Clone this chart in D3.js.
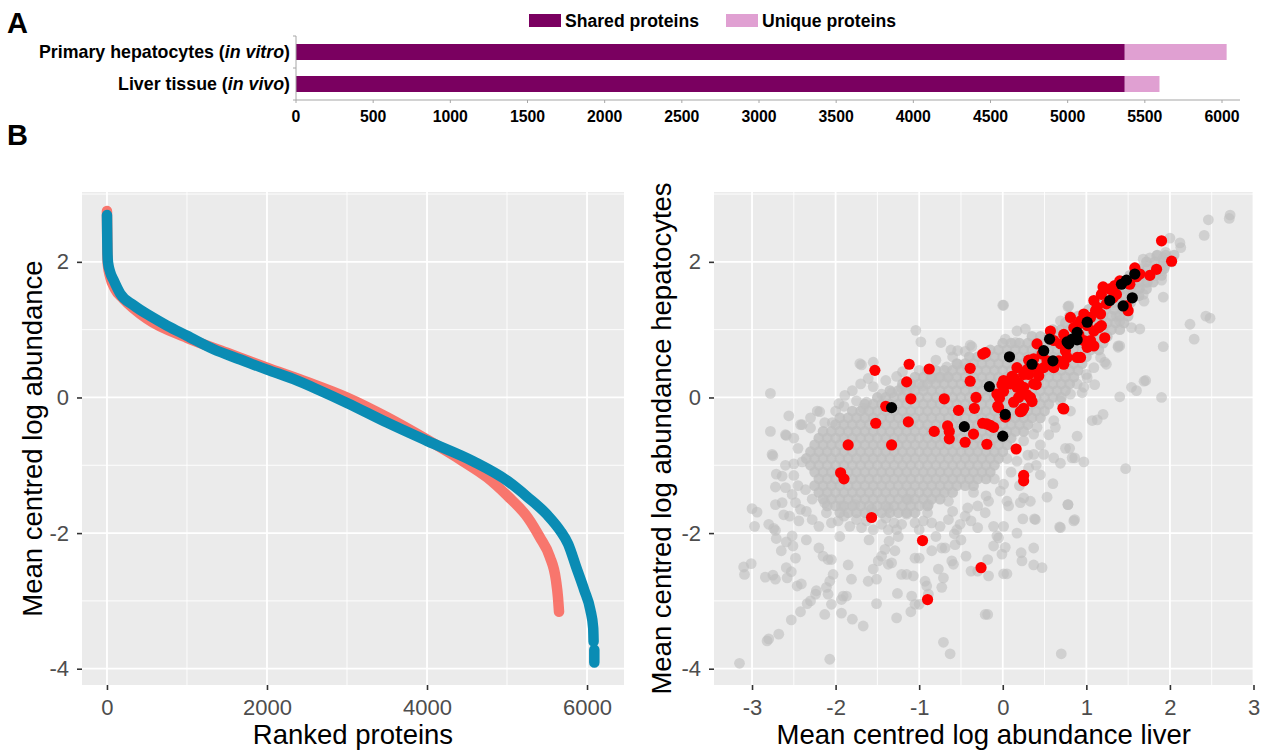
<!DOCTYPE html>
<html>
<head>
<meta charset="utf-8">
<script src="https://cdn.jsdelivr.net/npm/d3@7"></script>
<style>
  body { margin: 0; background: #fff; }
  svg { display: block; }
  text { font-family: "Liberation Sans", Arial, sans-serif; }
</style>
</head>
<body>
<svg id="fig" width="1266" height="750"></svg>
<script>
// ---------- Panel A: protein identifications per sample ----------
const groups = ["hepatocytes", "liver"];
const groupLabelParts = [["Primary hepatocytes (", "in vitro", ")"], ["Liver tissue (", "in vivo", ")"]];
const sharedCounts = [5370, 5370];
const uniqueCounts = [660, 225];
const countTicks = [0, 500, 1000, 1500, 2000, 2500, 3000, 3500, 4000, 4500, 5000, 5500, 6000];
const legendLabels = ["Shared proteins", "Unique proteins"];
const barColors = ["#7A0060", "#E0A0D2"];

// ---------- Panel B left: ranked abundance curves (rank, value) ----------
const rankTicks = [0, 2000, 4000, 6000];
const rankMinor = [1000, 3000, 5000];
const abundanceTicks = [-4, -2, 0, 2];
const abundanceMinor = [-3, -1, 1, 3];
const liverRanked = [[0, 2.75], [3, 2.45], [6, 2.1], [12, 1.95], [40, 1.78], [100, 1.6], [200, 1.46],
  [500, 1.16], [1000, 0.88], [1500, 0.66], [2000, 0.44], [2500, 0.23], [3000, 0.0], [3500, -0.29],
  [4000, -0.62], [4449, -0.94], [4752, -1.18], [5005, -1.45], [5258, -1.77], [5409, -2.06],
  [5535, -2.35], [5611, -2.69], [5637, -2.95], [5650, -3.16]];
const hepatocyteRanked = [[0, 2.69], [3, 2.4], [6, 2.15], [12, 2.0], [40, 1.85], [83, 1.73], [167, 1.53],
  [333, 1.36], [542, 1.2], [750, 1.06], [1000, 0.91], [1333, 0.71], [1667, 0.56], [2000, 0.41],
  [2333, 0.27], [2667, 0.1], [3000, -0.08], [3500, -0.37], [4000, -0.64], [4575, -0.94],
  [5005, -1.23], [5258, -1.47], [5510, -1.74], [5662, -1.96], [5763, -2.16], [5864, -2.5],
  [5965, -2.84], [6041, -3.13], [6077, -3.4], [6082, -3.6], [6086, null], [6091, -3.72], [6091, -3.91]];

// ---------- Panel B right: liver vs hepatocyte abundance ----------
const liverTicks = [-3, -2, -1, 0, 1, 2, 3];
const liverMinor = [-2.5, -1.5, -0.5, 0.5, 1.5, 2.5];

// dense body of the cloud, one row per hepatocyte value: [y, liver values]
const grayDenseRows = [
  [2.1, [1.85, 1.95, 2.05]],
  [2.0, [1.72, 1.82, 1.92, 2.02]],
  [1.9, [1.63, 1.73, 1.83, 1.93]],
  [1.8, [1.52, 1.62, 1.72, 1.82, 1.9]],
  [1.7, [1.43, 1.53, 1.63, 1.73, 1.8]],
  [1.6, [1.33, 1.43, 1.53, 1.63, 1.72]],
  [1.5, [1.23, 1.33, 1.43, 1.53, 1.63]],
  [1.4, [1.13, 1.23, 1.33, 1.43, 1.53]],
  [1.3, [1.03, 1.13, 1.23, 1.33, 1.43, 1.5]],
  [1.2, [0.8, 0.9, 1.0, 1.1, 1.2, 1.3, 1.4, 1.5]],
  [1.1, [0.75, 0.85, 0.95, 1.05, 1.15, 1.25, 1.35, 1.45]],
  [1.0, [0.6, 0.7, 0.8, 0.9, 1.0, 1.1, 1.2, 1.3, 1.4]],
  [0.9, [0.35, 0.45, 0.55, 0.65, 0.75, 0.85, 0.95, 1.05, 1.15, 1.25]],
  [0.8, [0, 0.1, 0.2, 0.3, 0.4, 0.5, 0.6, 0.7, 0.8, 0.9, 1.0, 1.1, 1.2]],
  [0.7, [-0.15, -0.05, 0.05, 0.15, 0.25, 0.35, 0.45, 0.55, 0.65, 0.75, 0.85, 0.95, 1.05, 1.15]],
  [0.6, [-0.4, -0.3, -0.2, -0.1, 0, 0.1, 0.2, 0.3, 0.4, 0.5, 0.6, 0.7, 0.8, 0.9, 1.0]],
  [0.5, [-0.55, -0.45, -0.35, -0.25, -0.15, -0.05, 0.05, 0.15, 0.25, 0.35, 0.45, 0.55, 0.65, 0.75, 0.85, 0.95]],
  [0.4, [-0.9, -0.8, -0.7, -0.6, -0.5, -0.4, -0.3, -0.2, -0.1, 0, 0.1, 0.2, 0.3, 0.4, 0.5, 0.6, 0.7, 0.8, 0.9]],
  [0.3, [-1.05, -0.95, -0.85, -0.75, -0.65, -0.55, -0.45, -0.35, -0.25, -0.15, -0.05, 0.05, 0.15, 0.25, 0.35, 0.45, 0.55, 0.65, 0.75, 0.85]],
  [0.2, [-1.2, -1.1, -1.0, -0.9, -0.8, -0.7, -0.6, -0.5, -0.4, -0.3, -0.2, -0.1, 0, 0.1, 0.2, 0.3, 0.4, 0.5, 0.6, 0.7, 0.8]],
  [0.1, [-1.35, -1.25, -1.15, -1.05, -0.95, -0.85, -0.75, -0.65, -0.55, -0.45, -0.35, -0.25, -0.15, -0.05, 0.05, 0.15, 0.25, 0.35, 0.45, 0.55, 0.65, 0.75]],
  [0.0, [-1.5, -1.4, -1.3, -1.2, -1.1, -1.0, -0.9, -0.8, -0.7, -0.6, -0.5, -0.4, -0.3, -0.2, -0.1, 0, 0.1, 0.2, 0.3, 0.4, 0.5, 0.6, 0.7]],
  [-0.1, [-1.65, -1.55, -1.45, -1.35, -1.25, -1.15, -1.05, -0.95, -0.85, -0.75, -0.65, -0.55, -0.45, -0.35, -0.25, -0.15, -0.05, 0.05, 0.15, 0.25, 0.35, 0.45, 0.55]],
  [-0.2, [-1.8, -1.7, -1.6, -1.5, -1.4, -1.3, -1.2, -1.1, -1.0, -0.9, -0.8, -0.7, -0.6, -0.5, -0.4, -0.3, -0.2, -0.1, 0, 0.1, 0.2, 0.3, 0.4, 0.5]],
  [-0.3, [-1.95, -1.85, -1.75, -1.65, -1.55, -1.45, -1.35, -1.25, -1.15, -1.05, -0.95, -0.85, -0.75, -0.65, -0.55, -0.45, -0.35, -0.25, -0.15, -0.05, 0.05, 0.15, 0.25, 0.35, 0.45]],
  [-0.4, [-2.0, -1.9, -1.8, -1.7, -1.6, -1.5, -1.4, -1.3, -1.2, -1.1, -1.0, -0.9, -0.8, -0.7, -0.6, -0.5, -0.4, -0.3, -0.2, -0.1, 0, 0.1, 0.2, 0.3]],
  [-0.5, [-2.15, -2.05, -1.95, -1.85, -1.75, -1.65, -1.55, -1.45, -1.35, -1.25, -1.15, -1.05, -0.95, -0.85, -0.75, -0.65, -0.55, -0.45, -0.35, -0.25, -0.15, -0.05, 0.05, 0.15, 0.25]],
  [-0.6, [-2.2, -2.1, -2.0, -1.9, -1.8, -1.7, -1.6, -1.5, -1.4, -1.3, -1.2, -1.1, -1.0, -0.9, -0.8, -0.7, -0.6, -0.5, -0.4, -0.3, -0.2, -0.1, 0, 0.1]],
  [-0.7, [-2.25, -2.15, -2.05, -1.95, -1.85, -1.75, -1.65, -1.55, -1.45, -1.35, -1.25, -1.15, -1.05, -0.95, -0.85, -0.75, -0.65, -0.55, -0.45, -0.35, -0.25, -0.15, -0.05, 0.05]],
  [-0.8, [-2.3, -2.2, -2.1, -2.0, -1.9, -1.8, -1.7, -1.6, -1.5, -1.4, -1.3, -1.2, -1.1, -1.0, -0.9, -0.8, -0.7, -0.6, -0.5, -0.4, -0.3, -0.2, -0.1, 0]],
  [-0.9, [-2.35, -2.25, -2.15, -2.05, -1.95, -1.85, -1.75, -1.65, -1.55, -1.45, -1.35, -1.25, -1.15, -1.05, -0.95, -0.85, -0.75, -0.65, -0.55, -0.45, -0.35, -0.25, -0.15, -0.05]],
  [-1.0, [-2.3, -2.2, -2.1, -2.0, -1.9, -1.8, -1.7, -1.6, -1.5, -1.4, -1.3, -1.2, -1.1, -1.0, -0.9, -0.8, -0.7, -0.6, -0.5, -0.4, -0.3, -0.2, -0.1]],
  [-1.1, [-2.25, -2.15, -2.05, -1.95, -1.85, -1.75, -1.65, -1.55, -1.45, -1.35, -1.25, -1.15, -1.05, -0.95, -0.85, -0.75, -0.65, -0.55, -0.45, -0.35, -0.25, -0.15]],
  [-1.2, [-2.2, -2.1, -2.0, -1.9, -1.8, -1.7, -1.6, -1.5, -1.4, -1.3, -1.2, -1.1, -1.0, -0.9, -0.8, -0.7, -0.6, -0.5, -0.4, -0.3, -0.2]],
  [-1.3, [-2.25, -2.15, -2.05, -1.95, -1.85, -1.75, -1.65, -1.55, -1.45, -1.35, -1.25, -1.15, -1.05, -0.95, -0.85, -0.75, -0.65, -0.55, -0.45, -0.35]],
  [-1.4, [-2.2, -2.1, -2.0, -1.9, -1.8, -1.7, -1.6, -1.5, -1.4, -1.3, -1.2, -1.1, -1.0, -0.9, -0.8, -0.7, -0.6]],
  [-1.5, [-2.15, -2.05, -1.95, -1.85, -1.75, -1.65, -1.55, -1.45, -1.35, -1.25, -1.15, -1.05, -0.95, -0.85, -0.75]],
  [-1.6, [-2.1, -2.0, -1.9, -1.8, -1.7, -1.6, -1.5, -1.4, -1.3, -1.2, -1.1, -1.0, -0.9]],
  [-1.7, [-1.95, -1.85, -1.75, -1.65, -1.55, -1.45, -1.35, -1.25, -1.15, -1.05]]
];

// individual proteins away from the dense body: [liver, hepatocytes]
const grayScatter = [
  [-1.04, 0.99], [-0.98, 0.82], [-0.74, 0.81], [-0.62, 0.70], [-0.54, 0.69], [-0.37, 0.75], [-1.69, 0.48],
  [-1.55, 0.52], [-1.61, 0.28], [-1.55, 0.16], [-1.27, 0.31], [-2.78, 0.06], [-2.56, -0.27], [-2.40, -0.40],
  [-2.19, -0.21], [-2.78, -0.50], [-2.59, -0.56], [-1.89, 0.03], [-1.96, -0.09], [-1.90, -0.13], [-2.13, -0.37],
  [-2.04, -0.37], [-1.75, -0.05], [-1.63, -0.07], [-1.67, -0.16], [-1.21, 0.14], [-1.10, 0.16], [-0.96, 0.17],
  [-0.86, 0.27], [-0.76, 0.29], [-0.66, 0.30], [-0.67, 0.45], [-0.54, 0.49], [-0.42, 0.44], [-1.45, 0.05],
  [-1.33, 0.07], [-2.76, -0.84], [-2.6, -0.55], [-2.42, -0.4], [-2.22, -0.2], [-1.71, 0.5], [-0.39, 0.77],
  [0.01, 1.36], [0.78, 1.34], [0.8, -0.75], [0.86, -0.89], [0.78, -1.58], [0.86, -1.8], [0.69, -1.92], [0.39, -1.8],
  [-2.75, -0.86], [-2.60, -1.0], [-2.50, -0.98], [-2.71, -1.13], [-2.64, -1.16], [-2.72, -1.32], [-3.0, -1.64],
  [-2.94, -1.69], [-2.97, -1.90], [-2.80, -1.87], [-2.74, -1.93], [-2.72, -1.96], [-2.71, -2.08], [-3.10, -2.50],
  [-3.09, -2.61], [-3.01, -2.45], [-2.84, -2.65], [-2.75, -2.62], [-2.72, -2.68], [-2.59, -2.51], [-2.58, -2.66],
  [-2.53, -2.57], [-2.65, -2.26], [-2.59, -2.13], [-2.52, -2.04], [-2.51, -2.19], [-2.48, -2.37], [-2.82, -3.59],
  [-2.80, -3.56], [-2.68, -3.49], [-3.15, -3.92], [-2.07, -3.86], [-2.46, -2.78], [-2.41, -2.75], [-2.34, -3.04],
  [-2.30, -3.0], [-2.24, -2.90], [-2.23, -2.85], [-2.42, -3.16], [-2.53, -3.28], [-2.20, -2.22], [-2.15, -2.34],
  [-2.09, -2.39], [-2.05, -2.39], [-2.03, -2.61], [-2.07, -2.71], [-2.11, -2.80], [-2.09, -2.90], [-2.13, -3.20],
  [-2.05, -3.05], [-1.93, -3.18], [-1.93, -2.98], [-1.91, -2.93], [-1.87, -2.93], [-1.85, -2.47], [-1.81, -2.68],
  [-1.80, -3.27], [-1.67, -3.37], [-1.61, -2.71], [-1.51, -2.68], [-1.51, -3.04], [-1.55, -2.53], [-1.49, -2.41],
  [-1.45, -2.34], [-1.36, -2.12], [-1.41, -2.24], [-1.37, -2.46], [-1.33, -2.44], [-1.29, -2.26], [-1.27, -3.25],
  [-1.26, -2.89], [-1.21, -2.61], [-1.15, -2.61], [-1.09, -2.93], [-1.07, -2.63], [-1.10, -3.16], [-1.05, -3.05],
  [-1.0, -3.05], [-1.05, -2.37], [-1.0, -2.37], [-0.93, -2.71], [-0.91, -2.78], [-0.89, -2.90], [-0.85, -2.26],
  [-0.73, -2.22], [-0.69, -2.22], [-0.71, -2.66], [-0.77, -2.53], [-0.73, -2.80], [-0.59, -2.46], [-0.61, -2.41],
  [-0.58, -2.01], [-0.57, -2.17], [-0.44, -2.34], [-0.38, -2.56], [-0.30, -2.56], [-0.71, -3.61], [-0.63, -3.78],
  [-2.64, -1.55], [-2.48, -1.55], [-2.62, -1.73], [-2.44, -1.82], [-2.28, -1.80], [-2.11, -1.70], [-1.97, -1.82],
  [-1.83, -1.90], [-1.69, -1.92], [-1.63, -1.82], [-1.45, -1.87], [-1.37, -1.95], [-1.27, -1.95], [-1.21, -1.87],
  [-1.05, -1.85], [-0.95, -1.82], [-0.85, -1.85], [-0.65, -1.80], [-0.51, -1.87], [-0.38, -1.82], [-0.30, -1.92],
  [-0.42, -1.63], [-0.65, -1.53], [-0.89, -1.58], [-1.13, -1.50], [-1.37, -1.63], [-1.57, -1.65], [-1.77, -1.58],
  [-1.93, -1.60], [-2.13, -1.55], [-2.28, -1.50], [-2.42, -1.65], [-2.52, -1.43], [-2.36, -1.36], [-2.72, -1.58],
  [-2.60, -1.33],
  [-2.55, -1.75], [-2.35, -1.68], [-2.2, -1.9], [-2.05, -1.85], [-1.9, -1.75], [-1.75, -1.8], [-1.55, -1.95],
  [-1.4, -1.78], [-1.3, -1.85], [-1.15, -1.72], [-1.0, -1.95], [-0.9, -1.7], [-0.75, -1.9], [-0.6, -1.68],
  [-0.55, -1.95], [-0.45, -1.75], [-0.3, -1.6], [-0.2, -1.45], [-0.35, -1.4], [-0.1, -1.2], [-2.45, -1.3],
  [-2.5, -1.15], [-2.4, -0.95], [-2.45, -0.75], [-2.5, -0.6], [-2.3, -0.45], [-1.25, -2.05], [-1.6, -2.1],
  [-1.95, -2.05], [-0.8, -2.05], [-0.5, -2.1], [-2.35, -2.1], [0.1, -1.1], [0.2, -1.3], [0.05, -0.9],
  [0.3, -0.85], [0.45, -0.7], [0.55, -0.55], [0.4, -1.0], [-1.7, 0.2], [-1.8, 0.1], [-1.2, 0.38], [-1.0, 0.4],
  [-0.8, 0.55], [-0.6, 0.6], [-0.45, 0.68], [-1.4, 0.25], [-2.0, -0.2], [-2.3, -0.3],
  [0.75, -0.75], [0.83, -0.89], [0.97, -0.95], [1.47, -1.05], [0.60, -1.27], [0.53, -1.47], [0.78, -1.58],
  [0.85, -1.82], [0.68, -1.91], [0.38, -1.79], [0.24, -1.79], [0.37, -2.22], [0.22, -2.29], [0.23, -2.41],
  [0.37, -2.47], [0.47, -2.51], [0.01, -2.60], [0.05, -2.60], [-0.17, -2.63], [-0.21, -3.2], [-0.18, -3.2],
  [0.70, -3.78], [0.17, -2.0], [-0.07, -2.04], [-0.05, -2.07], [0.01, -1.90], [-0.11, -1.90], [0.03, -2.21],
  [-0.11, -2.19], [-0.01, -2.31], [-0.18, -2.39], [0.21, -1.55], [0.25, -1.48], [0.33, -1.53], [0.05, -1.53],
  [0.07, -1.60], [0.01, -1.28], [-0.03, -1.38], [-0.17, -1.53], [-0.21, -1.70], [0.37, -0.84], [0.49, -0.84],
  [0.45, -1.14], [0.31, -1.04], [0.17, -0.94], [0.61, -0.89], [0.69, -0.97],
  [2.72, 2.69], [2.71, 2.64], [2.46, 2.62], [2.41, 2.39], [2.0, 2.35], [2.12, 2.28], [2.13, 2.21], [1.95, 2.14],
  [1.90, 1.73], [1.92, 1.48], [1.69, 1.42], [2.24, 1.08], [2.43, 1.20], [2.48, 1.17], [2.29, 0.86], [1.92, 0.75],
  [1.40, 0.76], [1.54, 1.03], [1.64, 1.01], [1.71, 0.25], [1.54, 0.15], [1.60, 0.10], [1.40, 0.01], [1.90, 0.0],
  [1.20, -0.25], [1.07, -0.34], [1.13, -0.33], [0.89, -0.57], [0.0, 1.36], [1.1, 0.19], [0.95, 0.07], [0.79, 1.35],
  [1.22, 0.52], [1.17, 0.59], [1.0, 0.34], [1.09, 0.44], [0.69, 1.13], [0.17, 0.98], [0.27, 1.01], [0.03, 0.86],
  [0.15, 0.81], [1.68, 2.04], [1.76, 2.06], [1.84, 2.09], [1.92, 2.06], [1.94, 1.94], [1.90, 1.87], [1.72, 1.70],
  [1.64, 1.62], [1.54, 1.52], [1.68, 1.52], [1.36, 1.20], [1.40, 1.13], [1.38, 0.76], [1.24, 0.49], [1.01, 0.29],
  [0.89, 0.20], [0.97, 0.15], [0.81, 0.05], [0.69, -0.05], [0.81, -0.20], [0.61, -0.34], [0.63, -0.44],
  [0.41, -0.44], [0.37, -0.54], [0.25, -0.64], [1.38, 0.74], [1.69, 0.24]
];

// proteins highlighted in red
const redPoints = [
  [1.90, 2.31], [2.02, 2.01], [1.84, 1.89], [1.76, 1.80], [1.58, 1.91], [1.60, 1.78], [1.48, 1.72], [1.20, 1.63],
  [1.28, 1.60], [1.34, 1.65], [1.18, 1.52], [1.24, 1.38], [1.09, 1.43], [1.50, 1.28], [1.48, 1.35], [1.11, 1.28],
  [1.17, 1.23], [1.05, 1.18], [0.93, 1.13], [0.89, 1.06], [0.97, 1.23], [1.15, 1.03], [1.09, 0.98], [1.01, 1.06],
  [0.91, 0.93], [0.97, 0.84], [1.01, 0.74], [1.05, 0.84], [0.57, 0.98], [0.61, 0.84], [0.41, 0.79], [0.47, 0.64],
  [0.37, 0.57], [0.53, 0.54], [0.61, 0.44], [0.73, 0.49], [0.75, 0.69], [0.69, 0.79], [0.89, 0.59], [0.93, 0.59],
  [0.31, 0.34], [0.43, 0.32], [0.33, 0.54], [0.01, 0.25], [0.13, 0.29], [0.09, 0.20], [0.17, 0.15], [0.25, 0.15],
  [0.19, 0.0], [0.33, 0.0], [0.37, 0.20], [-0.07, 0.05], [-0.05, -0.15], [0.13, -0.07], [0.23, -0.20],
  [0.03, -0.29], [-0.19, -0.39], [-0.11, -0.44], [0.73, -0.17], [-0.21, 0.66], [0.81, 1.18], [0.85, 1.03],
  [0.73, 0.93], [0.77, 0.59], [0.67, 0.54], [0.49, 0.44], [0.39, 0.44], [0.25, 0.34], [0.17, 0.44], [1.36, 1.52],
  [1.40, 1.72], [1.32, 1.47], [1.13, 1.33], [1.52, 1.67], [1.64, 1.82], [1.18, 1.06], [1.22, 0.88], [1.09, 0.76],
  [-1.53, 0.40], [-1.12, 0.49], [-0.88, 0.42], [-0.39, 0.43], [-0.39, 0.24], [-1.15, 0.23], [-1.10, -0.02],
  [-0.70, -0.02], [-0.32, 0.0], [-0.34, -0.16], [-0.53, -0.19], [-1.40, -0.13], [-1.52, -0.38], [-1.13, -0.36],
  [-0.82, -0.50], [-0.66, -0.42], [-0.64, -0.50], [-0.64, -0.61], [-0.35, -0.54], [-0.45, -0.66], [-1.85, -0.70],
  [-1.33, -0.70], [-0.24, 0.64], [-0.24, -0.38], [-0.19, -0.69], [-0.15, -0.41], [0.01, 0.09], [-0.01, 0.19],
  [-0.04, -0.01], [-0.06, -0.13], [0.07, 0.24], [0.11, 0.31], [0.17, 0.18], [0.23, 0.11], [0.29, 0.04],
  [0.33, -0.01], [0.25, -0.16], [0.21, -0.21], [0.35, -0.06], [0.31, 0.55], [0.40, 0.19], [0.19, 0.21],
  [0.29, 0.41], [0.72, -0.16],
  [-1.94, -1.11], [-1.90, -1.20], [-1.57, -1.77], [-0.96, -2.11], [-0.90, -2.98], [-0.26, -2.51],
  [0.16, -0.76], [0.25, -1.15], [0.25, -1.23]
];

// proteins highlighted in black
const blackPoints = [
  [1.58, 1.82], [1.48, 1.73], [1.42, 1.67], [1.28, 1.43], [1.44, 1.35], [1.55, 1.47], [1.01, 1.11], [0.89, 0.96],
  [0.83, 0.86], [0.79, 0.79], [0.89, 0.85], [0.77, 0.82], [0.56, 0.86], [0.49, 0.69], [0.60, 0.54], [0.35, 0.49],
  [0.08, 0.60], [-0.16, 0.16], [0.03, -0.25], [0.0, -0.57], [-1.33, -0.15], [-0.46, -0.43]
];

const svg = d3.select("#fig");

// ================= Panel A =================
const xA = d3.scaleLinear().domain([0, 6000]).range([296, 1222]);
const yA = d3.scaleBand().domain(groups).range([36, 100]).paddingInner(0.5).paddingOuter(0.25);
const gA = svg.append("g");

groups.forEach((g, i) => {
  gA.append("rect").attr("x", xA(0)).attr("y", yA(g))
    .attr("width", xA(sharedCounts[i]) - xA(0)).attr("height", yA.bandwidth())
    .attr("fill", barColors[0]);
  gA.append("rect").attr("x", xA(sharedCounts[i])).attr("y", yA(g))
    .attr("width", xA(sharedCounts[i] + uniqueCounts[i]) - xA(sharedCounts[i])).attr("height", yA.bandwidth())
    .attr("fill", barColors[1]);
  const t = gA.append("text").attr("x", 290).attr("y", yA(g) + yA.bandwidth() / 2)
    .attr("dy", "0.36em").attr("text-anchor", "end")
    .attr("font-size", 17.8).attr("font-weight", "bold").attr("fill", "#000");
  t.append("tspan").text(groupLabelParts[i][0]);
  t.append("tspan").attr("font-style", "italic").text(groupLabelParts[i][1]);
  t.append("tspan").text(groupLabelParts[i][2]);
});

// axis lines of panel A
gA.append("line").attr("x1", 296).attr("x2", 296).attr("y1", 36).attr("y2", 100)
  .attr("stroke", "#a6a6a6").attr("stroke-width", 1);
[36, 68, 100].forEach(y => gA.append("line").attr("x1", 293).attr("x2", 296).attr("y1", y).attr("y2", y)
  .attr("stroke", "#a6a6a6"));
gA.append("line").attr("x1", 296).attr("x2", 1240).attr("y1", 100).attr("y2", 100)
  .attr("stroke", "#a6a6a6").attr("stroke-width", 1.2);
countTicks.forEach(v => {
  gA.append("line").attr("x1", xA(v)).attr("x2", xA(v)).attr("y1", 100).attr("y2", 103)
    .attr("stroke", "#a6a6a6");
  gA.append("text").attr("x", xA(v)).attr("y", 121.5).attr("text-anchor", "middle")
    .attr("font-size", 15.8).attr("font-weight", "bold").attr("fill", "#000").text(v);
});

// legend
const legendX = [529, 726];
legendLabels.forEach((lab, i) => {
  gA.append("rect").attr("x", legendX[i]).attr("y", 14).attr("width", 32).attr("height", 13)
    .attr("fill", barColors[i]);
  gA.append("text").attr("x", legendX[i] + 36).attr("y", 27).attr("font-size", 17.6)
    .attr("font-weight", "bold").attr("fill", "#000").text(lab);
});

// panel letters
svg.append("text").attr("x", 7).attr("y", 33).attr("font-size", 29).attr("font-weight", "bold").text("A");
svg.append("text").attr("x", 7).attr("y", 145).attr("font-size", 29).attr("font-weight", "bold").text("B");

// ================= Panel B helpers =================
const yB = d3.scaleLinear().domain([-4.24, 3.03]).range([685, 192]);

function ggPanel(xs, xMajor, xMinor, id) {
  const [x0, x1] = xs.range();
  const [y0, y1] = [yB.range()[1], yB.range()[0]];
  const g = svg.append("g");
  g.append("rect").attr("x", x0).attr("y", y0).attr("width", x1 - x0).attr("height", y1 - y0).attr("fill", "#EBEBEB");
  g.append("clipPath").attr("id", id).append("rect")
    .attr("x", x0).attr("y", y0).attr("width", x1 - x0).attr("height", y1 - y0);
  abundanceMinor.forEach(v => g.append("line").attr("x1", x0).attr("x2", x1).attr("y1", yB(v)).attr("y2", yB(v))
    .attr("stroke", "#fff").attr("stroke-width", 0.9));
  xMinor.forEach(v => g.append("line").attr("y1", y0).attr("y2", y1).attr("x1", xs(v)).attr("x2", xs(v))
    .attr("stroke", "#fff").attr("stroke-width", 0.9));
  abundanceTicks.forEach(v => g.append("line").attr("x1", x0).attr("x2", x1).attr("y1", yB(v)).attr("y2", yB(v))
    .attr("stroke", "#fff").attr("stroke-width", 1.8));
  xMajor.forEach(v => g.append("line").attr("y1", y0).attr("y2", y1).attr("x1", xs(v)).attr("x2", xs(v))
    .attr("stroke", "#fff").attr("stroke-width", 1.8));

  const ax = svg.append("g").attr("transform", `translate(0,${y1})`)
    .call(d3.axisBottom(xs).tickValues(xMajor).tickSize(5).tickPadding(9).tickSizeOuter(0));
  const ay = svg.append("g").attr("transform", `translate(${x0},0)`)
    .call(d3.axisLeft(yB).tickValues(abundanceTicks).tickSize(5).tickPadding(8).tickSizeOuter(0));
  [ax, ay].forEach(a => {
    a.select(".domain").remove();
    a.selectAll(".tick line").attr("stroke", "#333").attr("stroke-width", 1.6);
    a.selectAll(".tick text").attr("fill", "#4D4D4D").attr("font-size", 22)
      .attr("font-family", "'Liberation Sans', Arial, sans-serif");
  });
  ax.selectAll(".tick text").text(d => d < 0 ? "-" + Math.abs(d) : d);
  ay.selectAll(".tick text").text(d => d < 0 ? "-" + Math.abs(d) : d);
  return g.append("g").attr("clip-path", `url(#${id})`);
}

// ================= Panel B left =================
const xL = d3.scaleLinear().domain([-312, 6462]).range([82, 624]);
const plotL = ggPanel(xL, rankTicks, rankMinor, "clipL");
const rankLine = d3.line().defined(d => d[1] !== null).x(d => xL(d[0])).y(d => yB(d[1])).curve(d3.curveMonotoneX);
[[liverRanked, "#F8766D"], [hepatocyteRanked, "#0A8CB4"]].forEach(([data, col]) => {
  plotL.append("path").attr("d", rankLine(data)).attr("fill", "none").attr("stroke", col)
    .attr("stroke-width", 10.5).attr("stroke-linecap", "round").attr("stroke-linejoin", "round");
});

svg.append("text").attr("x", xL.range()[0] + (xL.range()[1] - xL.range()[0]) / 2).attr("y", 743.5)
  .attr("text-anchor", "middle").attr("font-size", 27.5).attr("fill", "#000").text("Ranked proteins");
svg.append("text").attr("transform", `translate(41.5,${(192 + 685) / 2}) rotate(-90)`)
  .attr("text-anchor", "middle").attr("font-size", 27.5).attr("fill", "#000").text("Mean centred log abundance");

// ================= Panel B right =================
const xR = d3.scaleLinear().domain([-3.455, 3.0]).range([714, 1253.5]);
const plotR = ggPanel(xR, liverTicks, liverMinor, "clipR");

const denseGray = grayDenseRows.flatMap(([y, xs]) => xs.map(x => [x, y]));
plotR.append("g").selectAll("circle").data(denseGray).join("circle")
  .attr("cx", d => xR(d[0])).attr("cy", d => yB(d[1])).attr("r", 5.4)
  .attr("fill", "#BEBEBE").attr("fill-opacity", 0.8);
plotR.append("g").selectAll("circle").data(grayScatter).join("circle")
  .attr("cx", d => xR(d[0])).attr("cy", d => yB(d[1])).attr("r", 5.4)
  .attr("fill", "#BEBEBE").attr("fill-opacity", 0.6);
plotR.append("g").selectAll("circle").data(redPoints).join("circle")
  .attr("cx", d => xR(d[0])).attr("cy", d => yB(d[1])).attr("r", 5.6)
  .attr("fill", "#FF0000");
plotR.append("g").selectAll("circle").data(blackPoints).join("circle")
  .attr("cx", d => xR(d[0])).attr("cy", d => yB(d[1])).attr("r", 5.6)
  .attr("fill", "#000");

svg.append("text").attr("x", (714 + 1253.5) / 2).attr("y", 743.5)
  .attr("text-anchor", "middle").attr("font-size", 27.5).attr("fill", "#000").text("Mean centred log abundance liver");
svg.append("text").attr("transform", `translate(671,${(192 + 685) / 2}) rotate(-90)`)
  .attr("text-anchor", "middle").attr("font-size", 27.5).attr("fill", "#000").text("Mean centred log abundance hepatocytes");
</script>
</body>
</html>
